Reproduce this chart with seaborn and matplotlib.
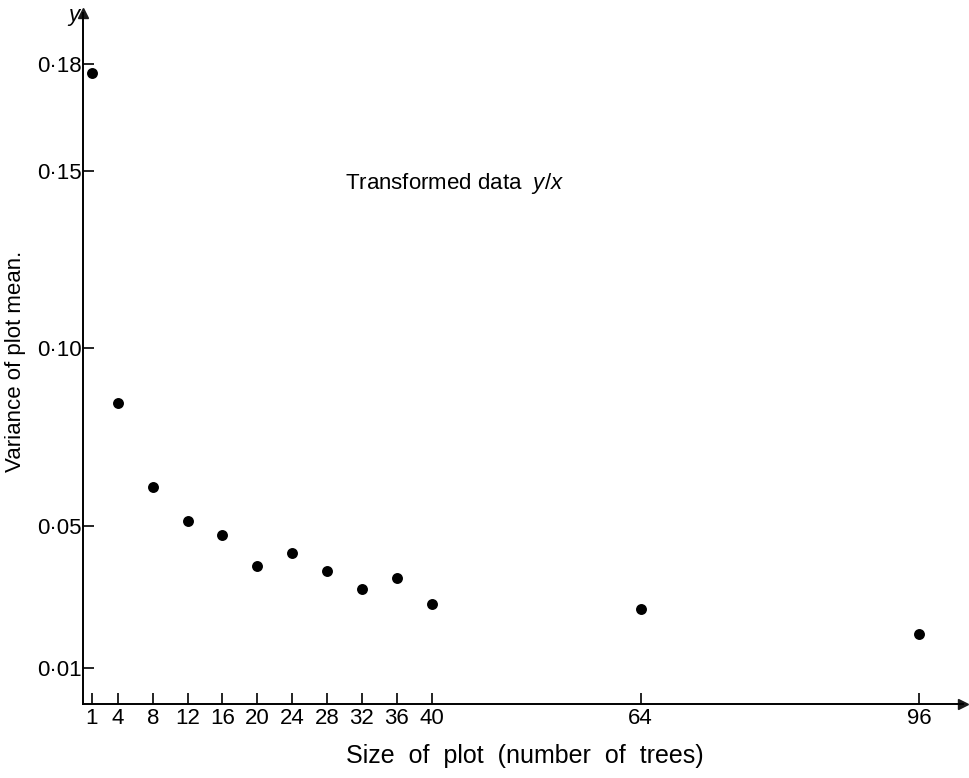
import matplotlib
matplotlib.use("Agg")
import matplotlib.pyplot as plt
import seaborn as sns
import pandas as pd

plot_size = [1, 4, 8, 12, 16, 20, 24, 28, 32, 36, 40, 64, 96]
variance = [0.1777, 0.0847, 0.0611, 0.0515, 0.0475, 0.0387, 0.0423,
            0.0373, 0.0322, 0.0354, 0.0279, 0.0266, 0.0197]
x_ticks = [1, 4, 8, 12, 16, 20, 24, 28, 32, 36, 40, 64, 96]
y_ticks = [0.01, 0.05, 0.10, 0.15, 0.18]
y_tick_labels = ["0·01", "0·05", "0·10", "0·15", "0·18"]

df = pd.DataFrame({"size": plot_size, "var": variance})

sns.set_theme(style="white")
plt.rcParams["font.family"] = ["Liberation Sans", "DejaVu Sans"]
plt.rcParams["mathtext.fontset"] = "custom"
plt.rcParams["mathtext.it"] = "Liberation Sans:italic"
plt.rcParams["mathtext.rm"] = "Liberation Sans"
plt.rcParams["text.color"] = "black"
plt.rcParams["axes.labelcolor"] = "black"

W, H = 970, 778
FS = 16
fig = plt.figure(figsize=(W / 100, H / 100), dpi=100)
ax = fig.add_axes([83 / W, 74.5 / H, (963 - 83) / W, (703.5 - 13) / H])

sns.scatterplot(data=df, x="size", y="var", ax=ax, color="black",
                s=62, edgecolor="black", linewidth=0, zorder=3)

ax.set_xlim(0, 101)
ax.set_ylim(0, 0.1945)
ax.set_xticks(x_ticks)
ax.set_xticklabels([str(t) for t in x_ticks])
ax.set_yticks(y_ticks)
ax.set_yticklabels(y_tick_labels)
ax.tick_params(axis="both", direction="in", length=8, width=1.2,
               colors="black", labelsize=FS, bottom=True, left=True)
ax.tick_params(axis="x", pad=3)
ax.tick_params(axis="y", pad=1)

for s in ["top", "right"]:
    ax.spines[s].set_visible(False)
for s in ["left", "bottom"]:
    ax.spines[s].set_color("black")
    ax.spines[s].set_linewidth(1.4)

ax.plot(1, 0, ">k", transform=ax.transAxes, clip_on=False, markersize=7)
ax.plot(0, 1, "^k", transform=ax.transAxes, clip_on=False, markersize=7)

ax.set_xlabel("Size  of  plot  (number  of  trees)", fontsize=18)
ax.set_ylabel("Variance of plot mean.", fontsize=FS)
ax.xaxis.set_label_coords((525 - 83) / (963 - 83), -(744 - 703.5) / (703.5 - 13))
ax.yaxis.set_label_coords(-(83 - 26) / (963 - 83), (703.5 - 361) / (703.5 - 13))

fig.text(79 / W, 1 - 15 / H, "y", fontsize=FS, style="italic",
         ha="right", va="center")
fig.text(345 / W, 1 - 183 / H, "Transformed data  $y/x$",
         ha="left", va="center", fontsize=FS)

fig.savefig("out.png", dpi=100, facecolor="white")
